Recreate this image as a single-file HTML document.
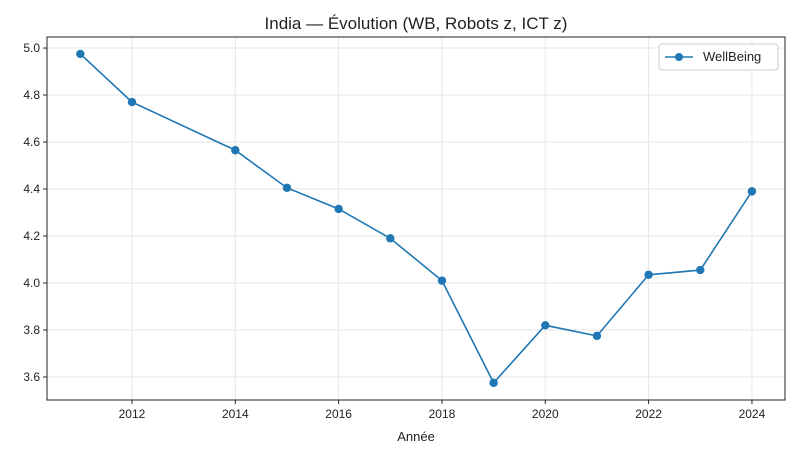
<!DOCTYPE html>
<html><head><meta charset="utf-8"><style>
body{margin:0;background:#fff;font-family:"Liberation Sans","DejaVu Sans",sans-serif}
svg text{font-family:"Liberation Sans","DejaVu Sans",sans-serif}
</style></head><body>
<svg id="chart" width="800" height="458">
<text x="416" y="29" text-anchor="middle" font-size="17" fill="#222">India — Évolution (WB, Robots z, ICT z)</text>
<g id="grid"></g><g id="axes"></g><g id="series"></g>
<rect x="47" y="37" width="738" height="363" fill="none" stroke="#222" stroke-width="1"/>
<text x="416" y="441" text-anchor="middle" font-size="13" fill="#222">Année</text>
<g>
<rect x="659" y="44" width="119" height="26" rx="3" fill="#fff" stroke="#ccc"/>
<line x1="665" y1="57" x2="693" y2="57" stroke="#1f77b4" stroke-width="1.5"/>
<circle cx="679" cy="57" r="4" fill="#1f77b4"/>
<text x="703" y="61" font-size="13" fill="#222">WellBeing</text>
</g>
</svg>
<script>
const years=[2011,2012,2014,2015,2016,2017,2018,2019,2020,2021,2022,2023,2024];
const wellbeing=[4.975,4.77,4.565,4.405,4.315,4.19,4.01,3.575,3.82,3.775,4.035,4.055,4.39];
const xTicks=[2012,2014,2016,2018,2020,2022,2024];
const yTicks=[3.6,3.8,4.0,4.2,4.4,4.6,4.8,5.0];
const L=47,R=785,T=37,B=400,x0=2010.355,x1=2024.64,y0=3.502,y1=5.047;
const X=v=>L+(v-x0)/(x1-x0)*(R-L);
const Y=v=>B-(v-y0)/(y1-y0)*(B-T);
const NS="http://www.w3.org/2000/svg";
function mk(t,a,p){const e=document.createElementNS(NS,t);for(const k in a)e.setAttribute(k,a[k]);p.appendChild(e);return e;}
const g=document.getElementById('grid'),ax=document.getElementById('axes'),s=document.getElementById('series');
xTicks.forEach(t=>{const x=X(t);
const l=mk('line',{x1:x,x2:x,y1:T,y2:B,stroke:'#e6e6e6'},g);


mk('line',{x1:x,x2:x,y1:B,y2:B+4,stroke:'#222'},ax);
const tx=mk('text',{x:x,y:B+18,'text-anchor':'middle','font-size':12,fill:'#222'},ax);tx.textContent=t;

});
yTicks.forEach(t=>{const y=Y(t);
const l=mk('line',{x1:L,x2:R,y1:y,y2:y,stroke:'#e6e6e6'},g);


mk('line',{x1:L-4,x2:L,y1:y,y2:y,stroke:'#222'},ax);
const tx=mk('text',{x:L-7,y:y+4,'text-anchor':'end','font-size':12,fill:'#222'},ax);tx.textContent=t.toFixed(1);

});
const pl=mk('polyline',{points:years.map((yr,i)=>X(yr)+','+Y(wellbeing[i])).join(' '),fill:'none',stroke:'#1f77b4','stroke-width':1.6},s);


years.forEach((yr,i)=>{const c=mk('circle',{cx:X(yr),cy:Y(wellbeing[i]),r:4.2,fill:'#1f77b4'},s);

});
</script>
</body></html>
